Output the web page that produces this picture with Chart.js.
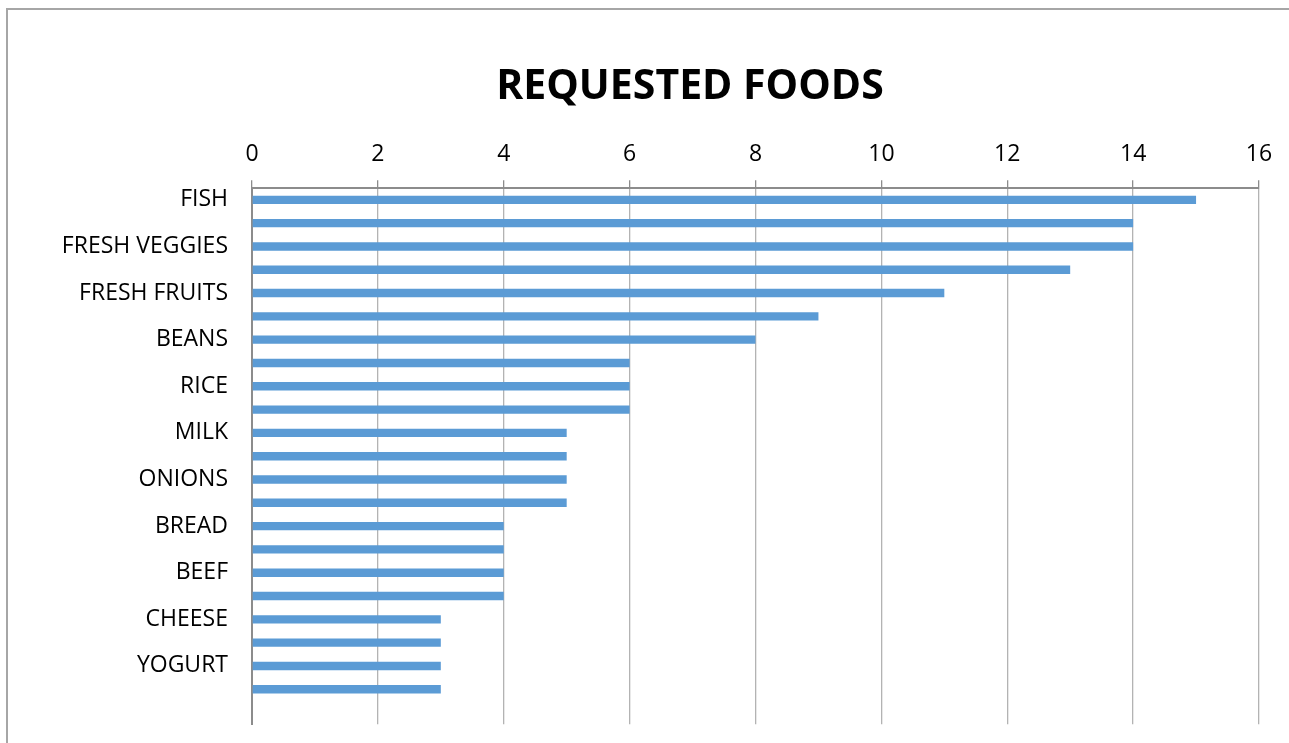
<!DOCTYPE html>
<html>
<head>
<meta charset="utf-8">
<script src="https://cdn.jsdelivr.net/npm/chart.js@4"></script>
<style>
    html, body { margin: 0; padding: 0; background: #fff; overflow: hidden; }
    #frame {
        position: absolute;
        left: 6px;
        top: 8px;
        border: 2px solid #a6a6a6;
        width: 1364px;
        height: 760px;
    }
    #chart { display: block; }
</style>
</head>
<body>
<div id="frame">
    <canvas id="chart" width="1364" height="752"></canvas>
</div>
<script>
// Categories (only every other label is shown in the original chart)
const foodLabels = [
    'FISH', '', 'FRESH VEGGIES', '', 'FRESH FRUITS', '', 'BEANS', '',
    'RICE', '', 'MILK', '', 'ONIONS', '', 'BREAD', '', 'BEEF', '',
    'CHEESE', '', 'YOGURT', '', ''
];
const requestCounts = [15, 14, 14, 13, 11, 9, 8, 6, 6, 6, 5, 5, 5, 5, 4, 4, 4, 4, 3, 3, 3, 3, null];
const axisMin = 0;
const axisMax = 16;
const axisStep = 2;

const fontFamily = "'Open Sans', 'Liberation Sans', sans-serif";

const ctx = document.getElementById('chart').getContext('2d');
const foodChart = new Chart(ctx, {
    type: 'bar',
    data: {
        labels: foodLabels,
        datasets: [{
            label: 'Requests',
            data: requestCounts,
            backgroundColor: '#5b9bd5',
            borderWidth: 0,
            categoryPercentage: 1.0,
            barPercentage: 0.36
        }]
    },
    options: {
        indexAxis: 'y',
        responsive: false,
        animation: false,
        layout: { padding: { left: 0, right: 0, top: 0, bottom: 4 } },
        plugins: {
            legend: { display: false },
            tooltip: { enabled: false },
            title: {
                display: true,
                text: 'REQUESTED FOODS',
                color: '#000',
                font: { family: fontFamily, size: 41, weight: 'bold' },
                padding: { top: 53, bottom: 17 }
            }
        },
        scales: {
            x: {
                position: 'top',
                min: axisMin,
                max: axisMax,
                afterFit: function(scale) { scale.height = 59; },
                ticks: {
                    stepSize: axisStep,
                    color: '#000',
                    padding: 12,
                    font: { family: fontFamily, size: 23 }
                },
                grid: {
                    color: '#b3b3b3',
                    lineWidth: 1.3,
                    tickLength: 8,
                    tickColor: '#8c8c8c'
                },
                border: { display: true, color: '#8c8c8c', width: 2 }
            },
            y: {
                afterFit: function(scale) { scale.width = 244; },
                ticks: {
                    autoSkip: false,
                    color: '#000',
                    padding: 24,
                    font: { family: fontFamily, size: 23 }
                },
                grid: { display: false, drawTicks: false },
                border: { display: true, color: '#8c8c8c', width: 2 }
            },
            // empty right-hand spacer, keeps the plot where the original ends
            spacer: {
                type: 'linear',
                position: 'right',
                display: true,
                afterFit: function(scale) { scale.width = 113; },
                ticks: { display: false },
                grid: { display: false, drawTicks: false },
                border: { display: false }
            }
        }
    }
});
</script>
</body>
</html>
